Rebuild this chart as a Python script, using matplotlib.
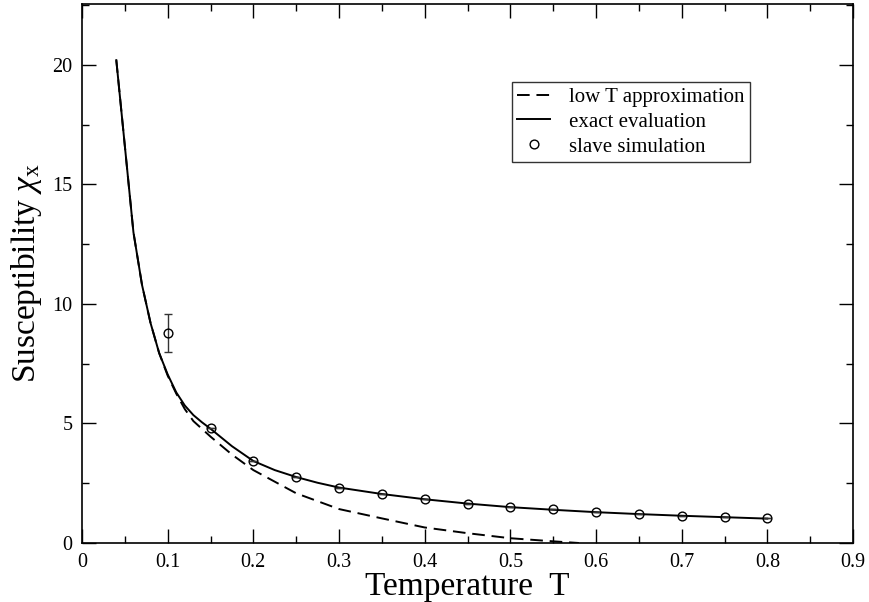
import numpy as np
import matplotlib
matplotlib.use("Agg")
import matplotlib.pyplot as plt
from matplotlib.ticker import MultipleLocator, FuncFormatter

plt.rcParams['font.family'] = ['Liberation Serif', 'DejaVu Serif']
plt.rcParams['mathtext.fontset'] = 'custom'
plt.rcParams['mathtext.rm'] = 'Liberation Serif'
plt.rcParams['mathtext.it'] = 'Liberation Serif:italic'

# exact evaluation
t_exact = [0.04, 0.05, 0.06, 0.07, 0.08, 0.09, 0.10, 0.11, 0.12, 0.13, 0.14, 0.15,
           0.175, 0.20, 0.225, 0.25, 0.275, 0.30, 0.35, 0.40, 0.45, 0.50, 0.55,
           0.60, 0.65, 0.70, 0.75, 0.80]
chi_exact = [20.2, 16.6, 13.0, 10.8, 9.2, 7.95, 7.05, 6.3, 5.75, 5.35, 5.05, 4.78,
             4.05, 3.43, 3.05, 2.76, 2.52, 2.32, 2.05, 1.83, 1.65, 1.5, 1.39,
             1.29, 1.21, 1.14, 1.08, 1.02]

# low T approximation
t_low = [0.04, 0.05, 0.06, 0.07, 0.08, 0.09, 0.10, 0.11, 0.12, 0.13, 0.15,
         0.175, 0.20, 0.25, 0.30, 0.35, 0.40, 0.45, 0.50, 0.55, 0.58]
chi_low = [20.2, 16.6, 13.0, 10.8, 9.2, 7.95, 7.0, 6.25, 5.6, 5.1, 4.45,
           3.7, 3.05, 2.08, 1.42, 1.03, 0.65, 0.41, 0.2, 0.07, 0.0]

# slave simulation
t_sim = [0.10, 0.15, 0.20, 0.25, 0.30, 0.35, 0.40, 0.45, 0.50, 0.55, 0.60,
         0.65, 0.70, 0.75, 0.80]
chi_sim = [8.8, 4.8, 3.43, 2.76, 2.31, 2.05, 1.84, 1.63, 1.49, 1.41, 1.28,
           1.21, 1.14, 1.08, 1.03]
err_sim = [0.8, 0, 0, 0, 0, 0, 0, 0, 0, 0, 0, 0, 0, 0, 0]

fig = plt.figure(figsize=(8.69, 6.02), dpi=100)
ax = fig.add_axes([0.0944, 0.098, 0.8872, 0.8954])

ax.plot(t_low, chi_low, color='black', lw=1.4, dashes=(6.5, 3.5),
        label='low T approximation')
ax.plot(t_exact, chi_exact, color='black', lw=1.4, label='exact evaluation')
ax.errorbar(t_sim, chi_sim, yerr=err_sim, fmt='none', ecolor='#333333',
            elinewidth=1.0, capsize=3)
ax.plot(t_sim, chi_sim, 'o', mfc='none', mec='black', ms=6.3, mew=1.0,
        label='slave simulation')

ax.set_xlim(0, 0.9)
ax.set_ylim(0, 22.55)
ax.xaxis.set_major_locator(MultipleLocator(0.1))
ax.xaxis.set_minor_locator(MultipleLocator(0.05))
ax.yaxis.set_major_locator(MultipleLocator(5))
ax.yaxis.set_minor_locator(MultipleLocator(2.5))
ax.xaxis.set_major_formatter(FuncFormatter(
    lambda v, p: '0' if abs(v) < 1e-9 else f'{v:.1f}'))
ax.tick_params(which='both', direction='in', top=True, right=True,
               labelsize=14.5, width=1.0)
ax.tick_params(which='major', length=10, pad=7)
ax.tick_params(which='minor', length=5)
for s in ax.spines.values():
    s.set_linewidth(1.2)

ax.set_xlabel('Temperature  T', fontsize=24, labelpad=0)
ax.set_ylabel(r'Susceptibility $\chi_{\mathrm{x}}$', fontsize=24, labelpad=6)

leg = ax.legend(loc='upper right', bbox_to_anchor=(0.866, 0.855), fontsize=15,
                frameon=True, fancybox=False, edgecolor='black', numpoints=1,
                handlelength=1.6, handletextpad=0.9, borderpad=0.25,
                labelspacing=0.25, borderaxespad=0)
leg.get_frame().set_linewidth(1.0)

fig.savefig('out.png', dpi=100)
